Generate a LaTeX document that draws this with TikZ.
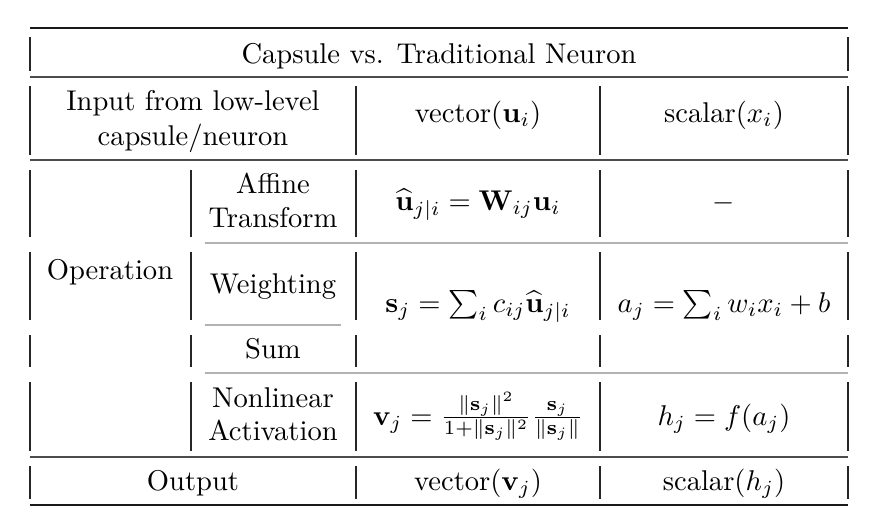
\documentclass[tikz,border=0pt]{standalone}
\usepackage{xcolor}
\usepackage{amsmath}
\usepackage{amssymb}
\usepackage{tikz}
\usetikzlibrary{positioning}
\tikzset{>=latex}
\tikzstyle{cell} = [rectangle, draw=none, align=center, inner sep=0pt, anchor=base]
\tikzstyle{toprule} = [-, line width=1pt, draw=black!90]
\tikzstyle{midrule} = [-, line width=0.7pt, draw=black!70]
\tikzstyle{subrule} = [-, line width=0.6pt, draw=black!30]
\tikzstyle{vrule} = [-, line width=0.45pt, draw=black!85]

\begin{document}
\begin{tikzpicture}[x=0.35pt, y=-0.35pt]
\useasboundingbox (0,0) rectangle (875,525);
% horizontal rules
\draw [toprule] (30,28) -- (848,28);
\draw [midrule] (30,77) -- (848,77);
\draw [midrule] (30,160) -- (848,160);
\draw [subrule] (205,243) -- (848,243);
\draw [subrule] (205,325) -- (341,325);
\draw [subrule] (205,373) -- (848,373);
\draw [midrule] (30,457) -- (848,457);
\draw [toprule] (30,505) -- (848,505);
% vertical rules, one piece per row
\foreach \x in {30, 848} \draw [vrule] (\x,37) -- (\x,71);
\foreach \x in {30, 356, 600, 848} \draw [vrule] (\x,86) -- (\x,155);
\foreach \ya/\yb in {170/237, 252/320, 335/367, 382/451}
  \foreach \x in {30, 191, 356, 600, 848} \draw [vrule] (\x,\ya) -- (\x,\yb);
\foreach \x in {30, 356, 600, 848} \draw [vrule] (\x,466) -- (\x,499);
% cells
\node [cell] (title) at (439,63) {Capsule vs. Traditional Neuron};
\node [cell] (inA) at (193,110) {Input from low-level};
\node [cell] (inB) at (193,145) {capsule/neuron};
\node [cell] (inCap) at (478,122) {vector($\mathbf{u}_i$)};
\node [cell] (inNeu) at (724,122) {scalar($x_i$)};
\node [cell] (op) at (110,279) {Operation};
\node [cell] (affA) at (273,193) {Affine};
\node [cell] (affB) at (273,227) {Transform};
\node [cell] (affCap) at (478,210) {$\widehat{\mathbf{u}}_{j|i} = \mathbf{W}_{ij}\mathbf{u}_i$};
\node [cell] (affNeu) at (724,210) {$-$};
\node [cell] (wgt) at (273,293) {Weighting};
\node [cell] (sum) at (273,358) {Sum};
\node [cell] (sumCap) at (478,312) {$\mathbf{s}_j = \sum_i c_{ij}\widehat{\mathbf{u}}_{j|i}$};
\node [cell] (sumNeu) at (724,312) {$a_j = \sum_i w_i x_i + b$};
\node [cell] (actA) at (273,407) {Nonlinear};
\node [cell] (actB) at (273,440) {Activation};
\node [cell] (actCap) at (478,425) {$\mathbf{v}_j = \frac{\|\mathbf{s}_j\|^2}{1+\|\mathbf{s}_j\|^2}\frac{\mathbf{s}_j}{\|\mathbf{s}_j\|}$};
\node [cell] (actNeu) at (724,425) {$h_j = f(a_j)$};
\node [cell] (out) at (193,490) {Output};
\node [cell] (outCap) at (478,490) {vector($\mathbf{v}_j$)};
\node [cell] (outNeu) at (724,490) {scalar($h_j$)};
\end{tikzpicture}
\end{document}
